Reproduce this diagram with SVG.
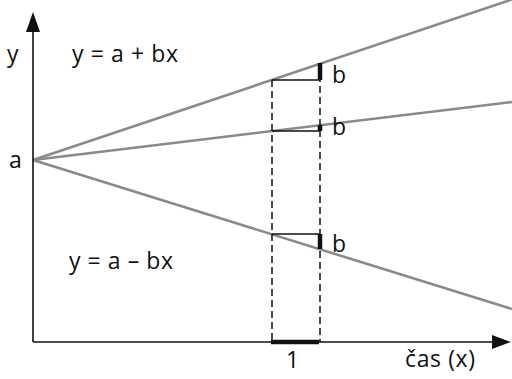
<svg xmlns="http://www.w3.org/2000/svg" width="512" height="379" viewBox="0 0 512 379">
<defs>
<style>
text{font-family:"Open Sans","Noto Sans",sans-serif;font-size:23px;fill:#111}
.ln{stroke:#8a8a8a;stroke-width:2.6;fill:none}
.ax{stroke:#111;stroke-width:1.6;fill:none}
.thin{stroke:#111;stroke-width:1.5;fill:none}
.bar{stroke:#111;stroke-width:4.5;fill:none}
.dash{stroke:#111;stroke-width:1.5;stroke-dasharray:7 4;fill:none}
</style>
</defs>
<rect width="512" height="379" fill="#fff"/>
<g id="connectors">
<line class="ln" x1="33" y1="160" x2="512" y2="-0.5"/>
<line class="ln" x1="33" y1="160" x2="512" y2="102"/>
<line class="ln" x1="33" y1="160" x2="512" y2="309"/>
<line class="dash" x1="272" y1="80" x2="272" y2="342"/>
<line class="dash" x1="320" y1="64" x2="320" y2="342"/>
<line class="thin" x1="272" y1="80" x2="320" y2="80"/>
<line class="thin" x1="272" y1="131" x2="320" y2="131"/>
<line class="thin" x1="272" y1="234" x2="320" y2="234"/>
<line class="bar" x1="320" y1="63" x2="320" y2="80"/>
<line class="bar" x1="320" y1="125" x2="320" y2="131"/>
<line class="bar" x1="320" y1="234" x2="320" y2="249"/>
<line class="ax" x1="33" y1="342" x2="33" y2="28"/>
<polygon points="33,12 26,32 40,32" fill="#111"/>
<line class="ax" x1="33" y1="342" x2="496" y2="342"/>
<polygon points="511,342 492,335 492,349" fill="#111"/>
<line class="bar" x1="271" y1="342" x2="319" y2="342"/>
</g>
<g id="labels">
<text x="7" y="62">y</text>
<text x="72" y="62" textLength="106">y = a + bx</text>
<text x="9" y="168">a</text>
<text x="332" y="83">b</text>
<text x="332" y="135">b</text>
<text x="332" y="252">b</text>
<text x="69" y="269" textLength="104">y = a – bx</text>
<text x="286" y="368">1</text>
<text x="405" y="367" textLength="70">čas (x)</text>
</g>
</svg>
